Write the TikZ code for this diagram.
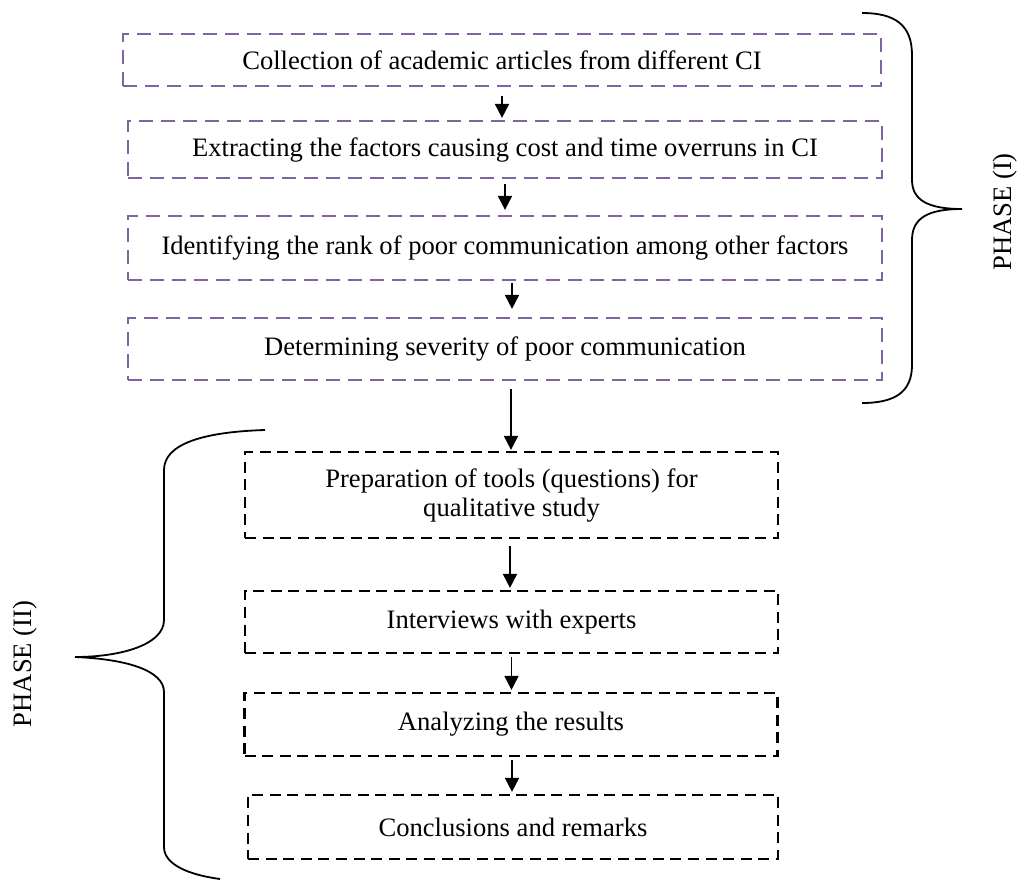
\documentclass[tikz,border=0pt]{standalone}
\usepackage{fontspec}
\setmainfont{Liberation Serif}
\usetikzlibrary{arrows.meta}
\definecolor{boxpurple}{RGB}{128,100,162}
\begin{document}
\begin{tikzpicture}[x=0.5pt,y=-0.5pt,
  txt/.style={font=\fontsize{13.3pt}{14.5pt}\selectfont},
  pbox/.style={txt, draw=boxpurple, line width=1.1pt, dash pattern=on 7pt off 4pt, minimum width=377pt, inner sep=0pt},
  kbox/.style={txt, draw=black, line width=1.1pt, dash pattern=on 5.5pt off 3.3pt, minimum width=266.5pt, inner sep=0pt, align=center},
  arr/.style={-{Triangle[length=7pt,width=7pt]}, line width=0.9pt},
  brace/.style={line width=0.9pt},
  phase/.style={txt, rotate=90}]
\useasboundingbox (0,0) rectangle (1018,879);

\node[pbox, minimum width=379pt, minimum height=26pt] (b1) at (502,60) {Collection of academic articles from different CI};
\node[pbox, minimum height=28.5pt] (b2) at (505,149.5) {Extracting the factors causing cost and time overruns in CI};
\node[pbox, minimum height=32pt] (b3) at (505,248) {Identifying the rank of poor communication among other factors};
\node[pbox, minimum height=31pt] (b4) at (505,349) {Determining severity of poor communication};

\node[kbox, minimum height=43pt] (b5) at (511.5,495) {Preparation of tools (questions) for\\qualitative study};
\node[kbox, minimum height=31pt] (b6) at (511.5,622) {Interviews with experts};
\node[kbox, minimum height=31.5pt] (b7) at (511,724.5) {Analyzing the results};
\node[kbox, minimum width=265pt, minimum height=32pt] (b8) at (513,827) {Conclusions and remarks};

\draw[arr, shorten <=4.5pt, shorten >=1pt] (b1.south) -- (b1.south |- b2.north);
\draw[arr, shorten <=2.5pt, shorten >=2.5pt] (b2.south) -- (b2.south |- b3.north);
\draw[arr, shorten <=1pt, shorten >=4pt] ([xshift=3.5pt]b3.south) -- ([xshift=3.5pt]b4.north);
\draw[arr, shorten <=4pt, shorten >=0.5pt] ([xshift=3pt]b4.south) -- ([xshift=3pt]b4.south |- b5.north);
\draw[arr, shorten <=3.5pt, shorten >=1pt] ([xshift=-0.75pt]b5.south) -- ([xshift=-0.75pt]b5.south |- b6.north);
\draw[arr, shorten <=1.5pt, shorten >=1pt] (b6.south) -- (b6.south |- b7.north);
\draw[arr, shorten <=1.5pt, shorten >=1pt] ([xshift=0.5pt]b7.south) -- ([xshift=0.5pt]b7.south |- b8.north);

\draw[brace] (862,13) .. controls (895,13) and (912,25) .. (912,55) -- (912,180)
  .. controls (912,200) and (928,209) .. (962,209)
  .. controls (928,209) and (912,218) .. (912,240) -- (912,365)
  .. controls (912,392) and (895,403) .. (862,403);
\draw[brace] (265,430) .. controls (200,432) and (164,445) .. (164,470) -- (164,620)
  .. controls (164,645) and (120,657) .. (75,657)
  .. controls (125,659) and (164,670) .. (164,692) -- (164,847)
  .. controls (164,865) and (190,875) .. (220,879);

\node[phase] (p1) at (1005,212) {PHASE (I)};
\node[phase] (p2) at (25,664) {PHASE (II)};
\end{tikzpicture}
\end{document}
